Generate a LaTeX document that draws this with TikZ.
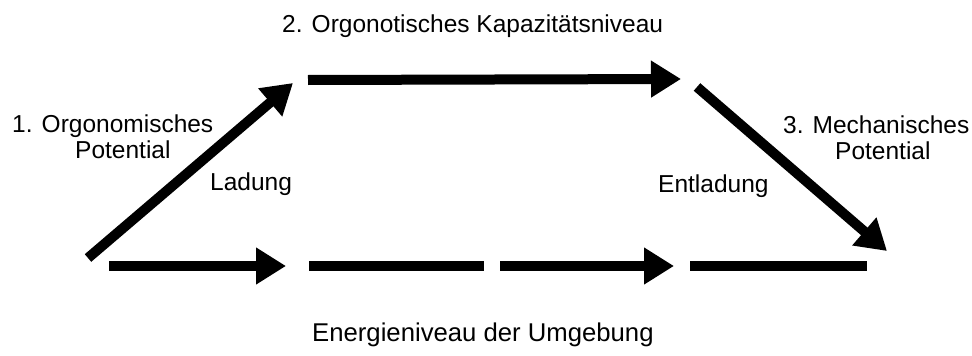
\documentclass[tikz,border=0pt]{standalone}
\usepackage{fontspec}
\setmainfont{Liberation Sans}
\usetikzlibrary{arrows.meta}
\begin{document}
\begin{tikzpicture}[x=1pt,y=-1pt,
  lbl/.style={inner sep=0pt,anchor=base west,font=\fontsize{24.5}{29}\selectfont},
  thick arrow/.style={line width=10pt,-{Triangle[length=30pt,width=35pt]}},
  thick line/.style={line width=10pt}]
\useasboundingbox (0,0) rectangle (972,356);
% coordinates
\coordinate (dA) at (88,258);
\coordinate (dB) at (293,83);
\coordinate (tA) at (308,80);
\coordinate (tB) at (681,79);
\coordinate (rA) at (697,87);
\coordinate (rB) at (887,251);
\coordinate (b1a) at (109,266);
\coordinate (b1b) at (286,266);
\coordinate (b2a) at (309,266);
\coordinate (b2b) at (484,266);
\coordinate (b3a) at (500,266);
\coordinate (b3b) at (674,266);
\coordinate (b4a) at (690,266);
\coordinate (b4b) at (867,266);
% arrows
\draw[thick arrow] (dA) -- (dB);
\draw[thick arrow] (tA) -- (tB);
\draw[thick arrow] (rA) -- (rB);
\draw[thick arrow] (b1a) -- (b1b);
\draw[thick line] (b2a) -- (b2b);
\draw[thick arrow] (b3a) -- (b3b);
\draw[thick line] (b4a) -- (b4b);
% labels
\node[lbl] (top) at (282,32) {2. Orgonotisches Kapazitätsniveau};
\node[lbl] (l1) at (12,132) {1. Orgonomisches};
\node[lbl] (l2) at (75,158) {Potential};
\node[lbl] (lad) at (210,190) {Ladung};
\node[lbl] (entl) at (658,192) {Entladung};
\node[lbl] (r1) at (783,133) {3. Mechanisches};
\node[lbl] (r2) at (835,159) {Potential};
\node[lbl,font=\fontsize{25.7}{30}\selectfont] (bot) at (312,341) {Energieniveau der Umgebung};
\end{tikzpicture}
\end{document}
